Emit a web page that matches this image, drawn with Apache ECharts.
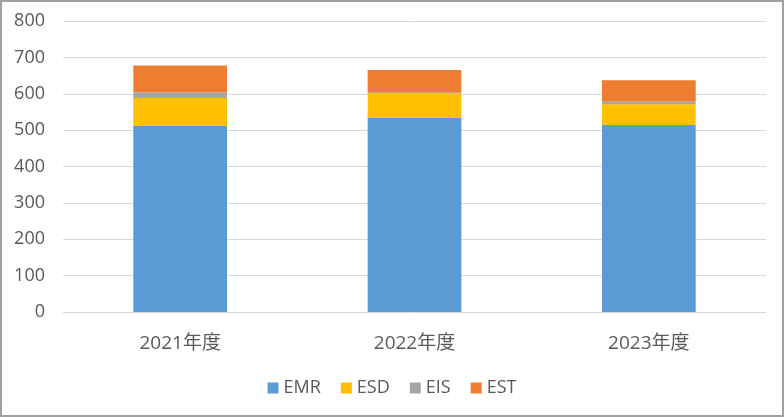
<!DOCTYPE html>
<html><head><meta charset="utf-8">
<script src="https://cdn.jsdelivr.net/npm/echarts@6/dist/echarts.min.js"></script>
<style>html,body{margin:0;padding:0;background:#fff}#c{width:784px;height:417px;box-sizing:border-box;border:2px solid #a0a0a0}</style>
</head><body><div id="c"></div>
<script>
const categories = ['2021年度', '2022年度', '2023年度'];
const EMR = [511, 533, 514];
const ESD = [77, 68, 57];
const EIS = [16, 2, 8];
const EST = [74, 62, 58];
const yTicks = { min: 0, max: 800, interval: 100 };

const font = '"Open Sans", "Noto Sans CJK JP", sans-serif';
const chart = echarts.init(document.getElementById('c'));
const mk = (name, data, color) => ({
  name, type: 'bar', stack: 'a', data, barWidth: '40%',
  itemStyle: { color }, emphasis: { disabled: true }
});
chart.setOption({
  animation: false,
  textStyle: { fontFamily: font },
  grid: { left: 61, right: 16, top: 19, bottom: 103, containLabel: false },
  legend: {
    bottom: 13, left: 'center', itemWidth: 11, itemHeight: 11, itemGap: 20,
    icon: 'rect',
    textStyle: { fontSize: 18, color: '#595959', fontFamily: font },
    data: ['EMR', 'ESD', 'EIS', 'EST']
  },
  xAxis: {
    type: 'category', data: categories,
    axisLine: { lineStyle: { color: '#d9d9d9' } },
    axisTick: { show: false },
    axisLabel: { fontSize: 19, color: '#595959', margin: 22, fontFamily: font }
  },
  yAxis: {
    type: 'value', min: yTicks.min, max: yTicks.max, interval: yTicks.interval,
    axisLabel: { fontSize: 18, color: '#595959', margin: 18, fontFamily: font },
    splitLine: { lineStyle: { color: '#d9d9d9' } },
    axisLine: { show: false }, axisTick: { show: false }
  },
  series: [
    mk('EMR', EMR, '#5B9BD5'),
    mk('ESD', ESD, '#FFC000'),
    mk('EIS', EIS, '#A5A5A5'),
    mk('EST', EST, '#ED7D31')
  ]
});
</script></body></html>
